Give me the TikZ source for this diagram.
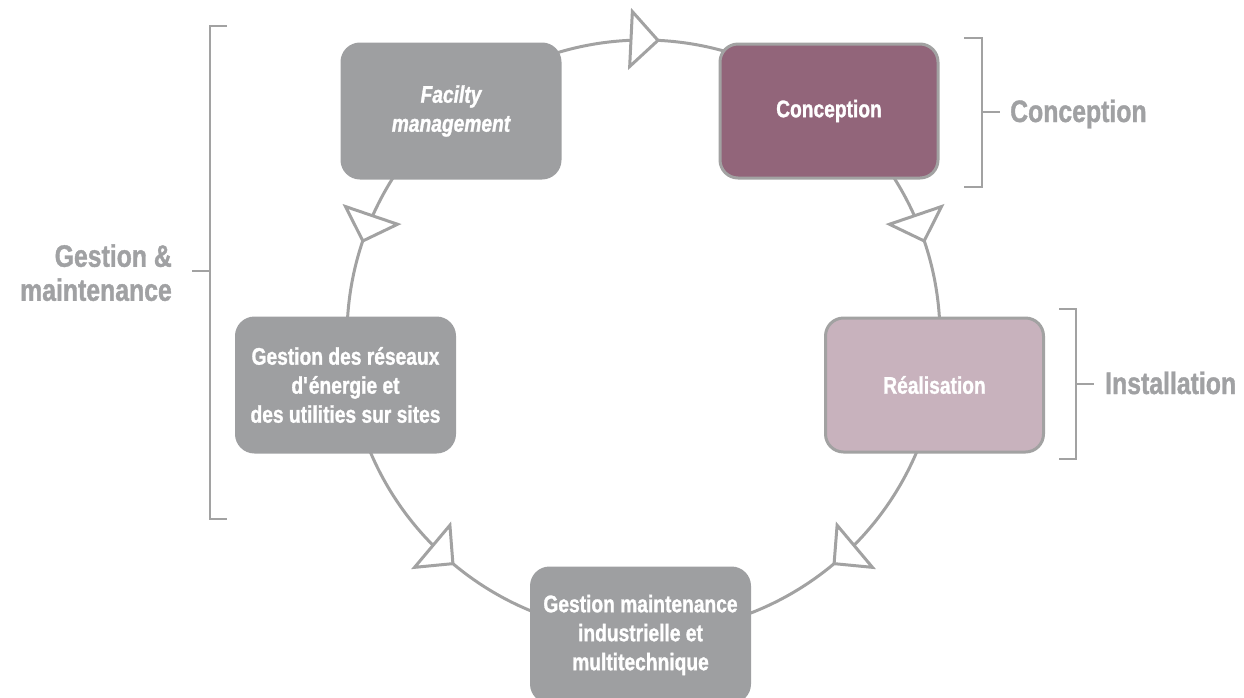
\documentclass[tikz,border=0pt]{standalone}
\usepackage{fontspec}
\setmainfont{Liberation Sans}[FakeStretch=0.8, BoldFeatures={FakeBold=1.2}, BoldItalicFeatures={FakeBold=1.2}]
\usetikzlibrary{calc}
\definecolor{ringgray}{RGB}{162,162,162}
\definecolor{boxgray}{RGB}{158,159,161}
\definecolor{plum}{RGB}{146,101,122}
\definecolor{lightplum}{RGB}{200,178,189}
\definecolor{labelgray}{RGB}{160,161,163}

\begin{document}
\begin{tikzpicture}[x=1pt,y=1pt,
  stage/.style={rounded corners=18pt, minimum width=218pt, minimum height=134pt,
    inner sep=0pt, align=center, text=white, line width=3pt,
    font=\bfseries\fontsize{24}{29}\selectfont},
  graystage/.style={stage, fill=boxgray, draw=boxgray},
  ring/.style={draw=ringgray, line width=3pt},
  flowtip/.style={draw=ringgray, fill=white, line width=3pt},
  bracket/.style={draw=ringgray, line width=2.5pt},
  phase/.style={text=labelgray, inner sep=0pt,
    font=\bfseries\fontsize{31}{34}\selectfont}
]
\useasboundingbox (0,0) rectangle (1244,-697);

% the life-cycle ring
\coordinate (centre) at (643.5,-336.5);
\draw[ring] (centre) circle (296.5);

% stages on the ring
\node[graystage, font=\bfseries\itshape\fontsize{24}{29}\selectfont] (fm) at (451,-111) {Facilty\\management};
\node[stage, fill=plum, draw=ringgray] (conc) at (829,-111) {Conception};
\node[stage, fill=lightplum, draw=ringgray] (real) at (934.5,-385) {Réalisation};
\node[graystage] (maint) at (640.5,-635) {Gestion maintenance\\industrielle et\\multitechnique};
\node[graystage] (res) at (345.5,-385) {Gestion des réseaux\\d\textquotesingle énergie et\\des utilities sur sites};

% open arrow heads along the ring: position angle / heading
\foreach \pos/\dir in {87.2/-2.8, 18.8/-71.2, -50/-140, -130/-40, 161.2/251.2} {
  \draw[flowtip, shift={($(centre)+(\pos:296.5)$)}, rotate=\dir]
    (0,0) -- (-27,27.5) -- (-27,-27.5) -- cycle;
}

% phase brackets and their labels
\node[phase, anchor=base west] (pconc) at (1010,-122) {Conception};
\coordinate (bconc) at (982,-112);
\draw[bracket] (964,-38) -- (982,-38) -- (982,-187) -- (964,-187);
\draw[bracket] (bconc) -- ([xshift=-10pt]pconc.west |- bconc);

\node[phase, anchor=base west] (pinst) at (1105,-394) {Installation};
\coordinate (binst) at (1076,-384);
\draw[bracket] (1059,-309) -- (1076,-309) -- (1076,-459) -- (1059,-459);
\draw[bracket] (binst) -- ([xshift=-11pt]pinst.west |- binst);

\node[phase, anchor=east, align=right] (pgest) at (172,-272.7) {Gestion \&\\maintenance};
\coordinate (bgest) at (210,-271);
\draw[bracket] (227,-26) -- (210,-26) -- (210,-519) -- (227,-519);
\draw[bracket] (bgest) -- ([xshift=20pt]pgest.east |- bgest);
\end{tikzpicture}
\end{document}
